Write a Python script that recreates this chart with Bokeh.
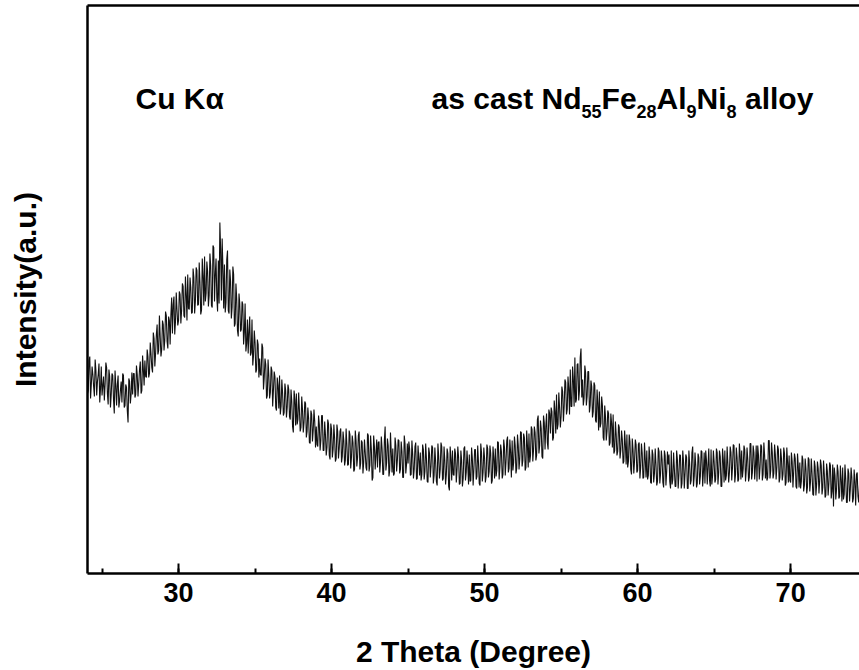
import numpy as np
from bokeh.plotting import figure
from bokeh.models import Range1d, LinearAxis, FixedTicker, SingleIntervalTicker, Label
from bokeh.embed import file_html
from bokeh.resources import INLINE

# ---------------- data ----------------
# 2-theta sampling: readings at 24.0, 24.1, ... 74.6 and in between at 24.05, 24.15, ... 74.55
theta_start = 24.0
theta_step = 0.1

# intensity (a.u.) at x.0 .. x.9, one row per degree
intensity = [
    205, 183, 217, 189, 199, 177, 203, 192, 210, 185,   # 24
    178, 197, 189, 206, 169, 197, 179, 198, 160, 188,   # 25
    189, 166, 183, 171, 198, 168, 186, 151, 192, 179,   # 26
    179, 200, 179, 199, 190, 212, 183, 204, 213, 196,   # 27
    217, 200, 220, 201, 235, 220, 249, 223, 237, 224,   # 28
    249, 233, 258, 225, 253, 259, 240, 277, 252, 263,   # 29
    253, 279, 263, 287, 256, 279, 299, 264, 286, 261,   # 30
    296, 272, 303, 269, 291, 263, 298, 317, 280, 302,   # 31
    278, 308, 266, 326, 299, 276, 313, 351, 273, 305,   # 32
    309, 271, 323, 260, 292, 266, 299, 250, 275, 237,   # 33
    270, 244, 269, 241, 222, 254, 242, 218, 254, 218,   # 34
    231, 204, 229, 215, 198, 226, 196, 209, 178, 198,   # 35
    181, 203, 183, 197, 163, 188, 198, 167, 180, 161,   # 36
    183, 166, 184, 154, 172, 141, 174, 180, 154, 163,   # 37
    146, 164, 151, 170, 142, 155, 130, 159, 143, 152,   # 38
    147, 127, 149, 133, 158, 123, 139, 126, 150, 114,   # 39
    144, 124, 135, 115, 142, 125, 145, 117, 133, 113,   # 40
    129, 109, 139, 116, 131, 104, 133, 116, 142, 110,   # 41
    131, 111, 121, 103, 138, 108, 124, 96, 127, 120,    # 42
    106, 132, 112, 125, 99, 147, 111, 128, 103, 121,    # 43
    125, 100, 128, 113, 133, 104, 122, 96, 130, 109,    # 44
    110, 125, 99, 120, 104, 131, 95, 115, 121, 99,      # 45
    124, 102, 115, 91, 120, 107, 126, 98, 112, 88,      # 46
    117, 104, 127, 95, 113, 99, 120, 83, 115, 123,      # 47
    98, 120, 104, 116, 90, 113, 95, 127, 101, 109,      # 48
    119, 93, 115, 104, 124, 97, 111, 88, 121, 101,      # 49
    115, 97, 125, 102, 120, 93, 115, 125, 103, 131,     # 50
    106, 122, 99, 126, 112, 137, 105, 121, 133, 111,    # 51
    128, 105, 128, 115, 141, 113, 136, 106, 128, 140,   # 52
    118, 144, 124, 141, 118, 158, 128, 145, 115, 151,   # 53
    147, 131, 164, 140, 162, 136, 162, 179, 149, 166,   # 54
    157, 182, 167, 191, 164, 185, 204, 167, 194, 216,   # 55
    174, 210, 183, 225, 194, 175, 201, 177, 202, 168,   # 56
    187, 162, 188, 151, 170, 182, 150, 168, 133, 157,   # 57
    142, 160, 131, 150, 159, 123, 139, 122, 146, 123,   # 58
    134, 112, 129, 139, 112, 132, 99, 124, 113, 129,    # 59
    103, 131, 106, 120, 96, 114, 123, 98, 116, 90,      # 60
    119, 100, 109, 92, 122, 100, 114, 86, 118, 102,     # 61
    109, 92, 123, 94, 105, 87, 114, 99, 118, 90,        # 62
    112, 100, 116, 85, 110, 93, 127, 97, 108, 90,       # 63
    116, 97, 122, 101, 90, 113, 108, 93, 124, 98,       # 64
    112, 94, 121, 101, 117, 87, 114, 123, 98, 109,      # 65
    101, 121, 106, 128, 99, 116, 94, 119, 123, 105,     # 66
    124, 103, 114, 96, 130, 101, 121, 107, 92, 118,     # 67
    106, 127, 99, 118, 114, 96, 133, 103, 121, 100,     # 68
    119, 106, 124, 96, 115, 99, 120, 91, 111, 118,      # 69
    91, 112, 102, 115, 85, 107, 111, 92, 114, 88,       # 70
    105, 86, 114, 92, 100, 78, 107, 89, 105, 93,        # 71
    108, 86, 99, 78, 102, 90, 108, 82, 67, 98,          # 72
    84, 102, 77, 94, 106, 79, 95, 71, 100, 84,          # 73
    96, 75, 91, 99, 77, 88, 69,                         # 74
]

# intensity (a.u.) at x.05 .. x.95, one row per degree
intensity_half = [
    180, 213, 175, 207, 187, 214, 178, 199, 171, 207,   # 24
    188, 173, 211, 180, 204, 166, 200, 174, 203, 168,   # 25
    198, 173, 192, 200, 166, 189, 163, 195, 170, 201,   # 26
    200, 176, 208, 177, 204, 180, 218, 188, 197, 224,   # 27
    196, 231, 206, 241, 207, 239, 219, 258, 217, 253,   # 28
    223, 262, 232, 257, 229, 276, 269, 239, 281, 248,   # 29
    282, 250, 290, 258, 297, 253, 265, 296, 260, 305,   # 30
    260, 306, 268, 311, 259, 315, 268, 272, 312, 267,   # 31
    320, 268, 328, 272, 315, 262, 270, 325, 335, 265,   # 32
    261, 314, 263, 304, 255, 307, 247, 290, 243, 280,   # 33
    242, 272, 229, 270, 230, 220, 257, 221, 208, 243,   # 34
    201, 234, 196, 199, 230, 184, 215, 175, 214, 175,   # 35
    207, 167, 202, 166, 196, 165, 159, 194, 158, 190,   # 36
    156, 189, 157, 184, 147, 183, 148, 149, 181, 142,   # 37
    177, 141, 172, 136, 166, 131, 163, 132, 164, 126,   # 38
    129, 158, 123, 158, 123, 152, 118, 154, 118, 150,   # 39
    116, 149, 112, 149, 115, 142, 111, 142, 108, 145,   # 40
    108, 143, 105, 138, 102, 143, 107, 138, 104, 133,   # 41
    100, 134, 106, 140, 102, 138, 93, 138, 104, 134,    # 42
    131, 101, 137, 99, 133, 103, 135, 97, 141, 101,     # 43
    98, 136, 102, 134, 100, 132, 96, 138, 100, 130,     # 44
    132, 98, 133, 95, 127, 94, 128, 98, 93, 129,        # 45
    94, 130, 92, 126, 96, 128, 90, 126, 92, 130,        # 46
    95, 131, 93, 127, 89, 125, 87, 127, 93, 99,         # 47
    125, 91, 127, 89, 123, 87, 125, 93, 123, 89,        # 48
    92, 126, 88, 124, 94, 128, 90, 130, 92, 126,        # 49
    91, 129, 96, 128, 90, 127, 95, 97, 132, 94,         # 50
    129, 95, 134, 98, 133, 101, 134, 96, 103, 137,      # 51
    100, 139, 104, 142, 107, 140, 103, 143, 106, 111,   # 52
    147, 112, 147, 113, 154, 120, 153, 117, 158, 124,   # 53
    160, 124, 160, 166, 133, 173, 140, 144, 181, 146,   # 54
    187, 152, 194, 159, 197, 159, 167, 207, 167, 171,   # 55
    209, 173, 216, 176, 168, 208, 168, 202, 161, 193,   # 56
    156, 191, 153, 184, 143, 146, 177, 136, 168, 133,   # 57
    163, 128, 160, 126, 120, 152, 118, 149, 115, 143,   # 58
    110, 143, 109, 106, 139, 104, 135, 100, 134, 101,   # 59
    129, 95, 130, 95, 131, 96, 94, 127, 91, 124,        # 60
    91, 125, 88, 126, 90, 123, 91, 123, 88, 122,        # 61
    119, 85, 89, 121, 87, 123, 85, 119, 85, 123,        # 62
    85, 119, 85, 123, 89, 121, 87, 121, 86, 120,        # 63
    89, 123, 87, 121, 123, 89, 125, 87, 89, 123,        # 64
    91, 125, 89, 123, 87, 125, 91, 93, 127, 91,         # 65
    127, 93, 129, 91, 126, 92, 130, 94, 96, 128,        # 66
    92, 126, 92, 130, 94, 128, 94, 128, 128, 94,        # 67
    129, 93, 131, 95, 93, 133, 95, 131, 95, 129,        # 68
    94, 128, 91, 125, 93, 126, 88, 126, 91, 93,         # 69
    121, 86, 120, 87, 120, 86, 85, 118, 82, 115,        # 70
    80, 116, 82, 115, 79, 113, 78, 112, 80, 114,        # 71
    79, 113, 76, 110, 78, 111, 75, 109, 106, 74,        # 72
    109, 75, 108, 72, 74, 109, 71, 105, 72, 106,        # 73
    71, 104, 68, 101, 71, 100,                          # 74
]

# merge both reading sets in order of 2-theta
theta_main = theta_start + theta_step * np.arange(len(intensity))
theta_half = theta_start + theta_step / 2 + theta_step * np.arange(len(intensity_half))
two_theta = np.concatenate([theta_main, theta_half])
counts = np.concatenate([np.array(intensity, float), np.array(intensity_half, float)])
order = np.argsort(two_theta, kind="stable")
two_theta, counts = two_theta[order], counts[order]

x_label = "2 Theta (Degree)"
y_label = "Intensity(a.u.)"
radiation_text = "Cu K\u03b1"
# sample name split into (text, is_subscript)
sample_parts = [("as cast Nd", False), ("55", True), ("Fe", False), ("28", True),
                ("Al", False), ("9", True), ("Ni", False), ("8", True), (" alloy", False)]

# ---------------- layout / style ----------------
FONT = "Liberation Sans"
W, H = 859, 670
LEFT, TOP, BOTTOM = 87, 5, 97
X0, X1 = 24.05, 74.5
Y0, Y1 = 0, 568
frame_w = W - LEFT

p = figure(width=W, height=H, output_backend="svg", toolbar_location=None,
           x_range=Range1d(X0, X1), y_range=Range1d(Y0, Y1),
           min_border_left=LEFT, min_border_right=0, min_border_top=TOP,
           min_border_bottom=BOTTOM)
p.outline_line_color = None
p.grid.visible = False
p.background_fill_color = "white"
p.border_fill_color = "white"

p.line(two_theta, counts, line_color="#111111", line_width=1.1)

xa = p.xaxis[0]
xa.ticker = SingleIntervalTicker(interval=10, num_minor_ticks=2)
xa.axis_line_width = 2.5
xa.axis_line_color = "black"
xa.major_tick_in = 10
xa.major_tick_out = 0
xa.minor_tick_in = 5
xa.minor_tick_out = 0
xa.major_tick_line_width = 2
xa.minor_tick_line_width = 2
xa.major_label_text_font = FONT
xa.major_label_text_font_style = "bold"
xa.major_label_text_font_size = "27px"
xa.major_label_text_color = "black"
xa.major_label_standoff = 9
xa.axis_label = x_label
xa.axis_label_text_font = FONT
xa.axis_label_text_font_style = "bold"
xa.axis_label_text_font_size = "30px"
xa.axis_label_text_color = "black"
xa.axis_label_standoff = 30

ya = p.yaxis[0]
ya.ticker = FixedTicker(ticks=[])
ya.axis_line_width = 2.5
ya.axis_line_color = "black"
ya.major_tick_line_color = None
ya.minor_tick_line_color = None
ya.major_label_text_font_size = "0px"
ya.axis_label = y_label
ya.axis_label_text_font = FONT
ya.axis_label_text_font_style = "bold"
ya.axis_label_text_font_size = "30px"
ya.axis_label_text_color = "black"
ya.axis_label_standoff = 46

top_axis = LinearAxis(ticker=FixedTicker(ticks=[]), axis_line_width=2.5,
                      axis_line_color="black", major_tick_line_color=None,
                      minor_tick_line_color=None, major_label_text_font_size="0px")
p.add_layout(top_axis, "above")

def px_to_x(px):
    return X0 + (px - LEFT) * (X1 - X0) / frame_w

def py_to_y(py):
    return (TOP + (Y1 - Y0)) - py

MAIN, SUB = 30, 18
BASE_PY, SUB_PY = 98, 111

p.add_layout(Label(x=px_to_x(135), y=py_to_y(BASE_PY), text=radiation_text,
                   text_font=FONT, text_font_style="bold", text_font_size=f"{MAIN}px",
                   text_color="black", text_baseline="alphabetic"))

# Arial/Liberation Sans Bold advance widths (em)
adv = {'a': .556, 's': .556, ' ': .278, 'c': .556, 't': .333, 'N': .722, 'd': .611,
       'F': .611, 'e': .556, 'A': .722, 'l': .278, 'i': .278, 'o': .611, 'y': .556}
adv.update({str(k): .556 for k in range(10)})

cur = 431.0
for txt, sub in sample_parts:
    size = SUB if sub else MAIN
    lead = len(txt) - len(txt.lstrip(" "))
    cur += lead * adv[" "] * size
    body = txt.lstrip(" ")
    p.add_layout(Label(x=px_to_x(cur), y=py_to_y(SUB_PY if sub else BASE_PY), text=body,
                       text_font=FONT, text_font_style="bold", text_font_size=f"{size}px",
                       text_color="black", text_baseline="alphabetic"))
    cur += sum(adv[ch] for ch in body) * size

open("out.html", "w").write(file_html(p, INLINE))
